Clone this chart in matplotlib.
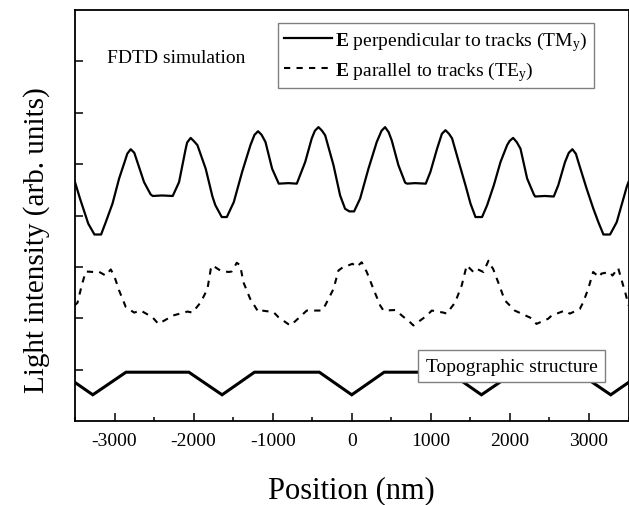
import numpy as np
import matplotlib
matplotlib.use('Agg')
import matplotlib.pyplot as plt
import matplotlib.ticker as ticker

plt.rcParams['font.family'] = ['Liberation Serif', 'DejaVu Serif']
plt.rcParams['mathtext.fontset'] = 'custom'
plt.rcParams['mathtext.rm'] = 'Liberation Serif'
plt.rcParams['mathtext.bf'] = 'Liberation Serif:bold'
plt.rcParams['mathtext.it'] = 'Liberation Serif:italic'
plt.rcParams['axes.unicode_minus'] = False

# TM_y (E perpendicular to tracks)
tm_pos = [-3500, -3437, -3332, -3254, -3170, -3111, -3026, -2942, -2858, -2840,
          -2795, -2750, -2711, -2627, -2543, -2517, -2400, -2264, -2184, -2100,
          -2082, -2037, -1992, -1952, -1847, -1762, -1725, -1644, -1580, -1492,
          -1386, -1281, -1230, -1185, -1140, -1091, -1007, -923, -800, -695,
          -589, -506, -466, -421, -376, -336, -231, -147, -84, -30,
          30, 106, 211, 316, 377, 422, 467, 506, 590, 675,
          700, 800, 936, 995, 1079, 1140, 1185, 1230, 1269, 1354,
          1438, 1502, 1565, 1648, 1712, 1797, 1881, 1965, 1996, 2041,
          2086, 2134, 2218, 2303, 2320, 2440, 2555, 2612, 2697, 2745,
          2790, 2835, 2866, 2971, 3056, 3119, 3183, 3267, 3351, 3436,
          3478, 3500]
tm_val = [4.65, 4.33, 3.84, 3.63, 3.63, 3.87, 4.23, 4.72, 5.11, 5.20,
          5.29, 5.22, 5.04, 4.65, 4.41, 4.38, 4.39, 4.38, 4.65, 5.30,
          5.42, 5.51, 5.44, 5.37, 4.91, 4.37, 4.20, 3.97, 3.97, 4.26,
          4.85, 5.37, 5.57, 5.64, 5.57, 5.43, 4.91, 4.62, 4.63, 4.62,
          5.04, 5.50, 5.65, 5.72, 5.65, 5.56, 4.98, 4.39, 4.13, 4.08,
          4.08, 4.33, 4.91, 5.43, 5.65, 5.72, 5.62, 5.46, 4.98, 4.64,
          4.62, 4.63, 4.62, 4.85, 5.30, 5.59, 5.66, 5.59, 5.50, 5.04,
          4.59, 4.23, 3.97, 3.97, 4.20, 4.59, 5.04, 5.37, 5.45, 5.51,
          5.43, 5.30, 4.72, 4.41, 4.37, 4.38, 4.37, 4.59, 5.04, 5.22,
          5.29, 5.20, 5.04, 4.52, 4.13, 3.87, 3.63, 3.63, 3.87, 4.33,
          4.56, 4.65]

# TE_y (E parallel to tracks)
te_pos = [-3507, -3469, -3415, -3364, -3258, -3203, -3111, -3048, -3005, -2942,
          -2858, -2752, -2669, -2521, -2445, -2331, -2268, -2078, -2015, -1910,
          -1825, -1783, -1762, -1664, -1559, -1518, -1454, -1411, -1370, -1285,
          -1180, -1138, -990, -927, -779, -716, -569, -506, -379, -336,
          -231, -168, -105, -42, 9, 63, 126, 190, 274, 359,
          401, 549, 739, 780, 949, 1012, 1160, 1201, 1308, 1391,
          1454, 1539, 1581, 1666, 1729, 1745, 1788, 1852, 1935, 2061,
          2104, 2273, 2336, 2484, 2526, 2694, 2758, 2884, 2927, 2990,
          3053, 3129, 3158, 3263, 3297, 3369, 3432, 3453, 3500]
te_val = [2.25, 2.30, 2.64, 2.91, 2.90, 2.91, 2.83, 2.95, 2.83, 2.54,
          2.22, 2.11, 2.15, 2.02, 1.89, 1.99, 2.05, 2.13, 2.11, 2.31,
          2.57, 2.96, 3.03, 2.93, 2.90, 2.91, 3.08, 3.03, 2.70, 2.38,
          2.12, 2.15, 2.12, 2.02, 1.86, 1.94, 2.15, 2.15, 2.15, 2.25,
          2.57, 2.93, 3.00, 3.03, 3.06, 3.00, 3.09, 2.90, 2.57, 2.25,
          2.15, 2.16, 1.92, 1.86, 2.05, 2.15, 2.11, 2.09, 2.31, 2.64,
          3.03, 2.90, 2.96, 2.90, 3.12, 3.06, 2.96, 2.70, 2.35, 2.15,
          2.12, 2.00, 1.89, 1.99, 2.05, 2.15, 2.09, 2.18, 2.31, 2.57,
          2.90, 2.80, 2.87, 2.90, 2.83, 2.98, 2.64, 2.54, 2.25]

# topographic profile of the tracks
topo_pos = [-3500, -3275, -2855, -2060, -1640, -1230, -410, 0,
            410, 1230, 1640, 2060, 2855, 3275, 3500]
topo_val = [0.75, 0.51, 0.95, 0.95, 0.51, 0.95, 0.95, 0.51,
            0.95, 0.95, 0.51, 0.95, 0.95, 0.51, 0.75]

xticks = [-3000, -2000, -1000, 0, 1000, 2000, 3000]


fig = plt.figure(figsize=(6.29, 5.06), dpi=100)
ax = fig.add_axes([75/629, 1 - 422/506, 553.5/629, 411/506])

l1, = ax.plot(tm_pos, tm_val, color='black', lw=1.6, solid_joinstyle='round')
l2, = ax.plot(te_pos, te_val, color='black', lw=1.5, dashes=(3, 3))
ax.plot(topo_pos, topo_val, color='black', lw=2.2, solid_joinstyle='miter')

ax.set_xlim(-3500, 3500)
ax.set_ylim(0, 8)
ax.set_xticks(xticks)
ax.xaxis.set_minor_locator(ticker.MultipleLocator(500))
ax.set_yticks(range(1, 8))
ax.set_yticklabels([])
ax.tick_params(which='both', direction='in', width=1.1, labelsize=14)
ax.tick_params(which='major', length=5.5)
ax.tick_params(which='minor', length=2.7)
ax.tick_params(axis='x', pad=8)
for s in ax.spines.values():
    s.set_linewidth(1.3)

ax.set_xlabel('Position (nm)', fontsize=22, labelpad=19)
ax.set_ylabel('Light intensity (arb. units)', fontsize=21)
ax.yaxis.set_label_coords(-0.045, 0.443)

ax.text(0.058, 0.885, 'FDTD simulation', fontsize=14, transform=ax.transAxes,
        va='center', ha='left')

leg = ax.legend([l1, l2],
                [r'$\mathbf{E}$ perpendicular to tracks (TM$_{\mathrm{y}}$)',
                 r'$\mathbf{E}$ parallel to tracks (TE$_{\mathrm{y}}$)'],
                loc='upper left', bbox_to_anchor=(0.3668, 0.968),
                borderaxespad=0, fontsize=14, handlelength=2.5,
                handletextpad=0.15, labelspacing=0.3, borderpad=0.3,
                fancybox=False, framealpha=1, edgecolor='#808080')
leg.get_frame().set_linewidth(1.0)

ax.text(2022, 1.07, 'Topographic structure', fontsize=14, ha='center',
        va='center', zorder=5,
        bbox=dict(boxstyle='square,pad=0.4', fc='white', ec='#808080', lw=1.0))

fig.savefig('out.png', dpi=100)
